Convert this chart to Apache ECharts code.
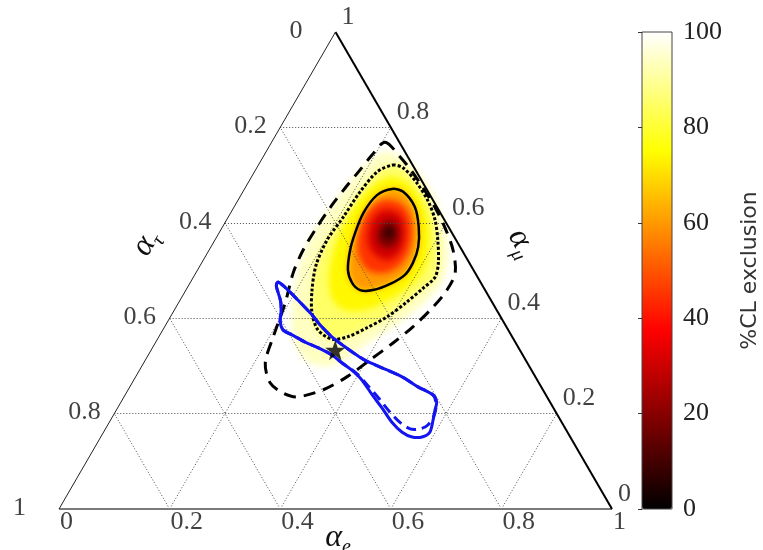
<!DOCTYPE html>
<html>
<head>
<meta charset="utf-8">
<title>Flavour triangle</title>
<script src="https://cdn.jsdelivr.net/npm/echarts@6/dist/echarts.min.js"></script>
<style>
  html, body { margin: 0; padding: 0; background: #ffffff; }
  .layer { position: absolute; left: 0; top: 0; width: 763px; height: 550px; }
  #heat { filter: blur(3px); }
</style>
</head>
<body>
<div id="heat" class="layer"></div>
<div id="main" class="layer"></div>
<script>
// Ternary points are stored as [alpha_e, alpha_mu]; alpha_tau = 1 - alpha_e - alpha_mu.
const tickValues = [0, 0.2, 0.4, 0.6, 0.8, 1];
const tickLabels = ['0', '0.2', '0.4', '0.6', '0.8', '1'];
const gridValues = [0.2, 0.4, 0.6, 0.8];
const vertexE = [1, 0];
const vertexMu = [0, 1];
const vertexTau = [0, 0];

// exclusion contours (closed rings)
const contour95 = [[0.205,0.769],[0.248,0.738],[0.285,0.707],[0.322,0.673],[0.363,0.633],[0.402,0.591],[0.441,0.543],[0.469,0.495],[0.472,0.459],[0.465,0.424],[0.449,0.382],[0.430,0.348],[0.406,0.312],[0.382,0.277],[0.353,0.250],[0.313,0.235],[0.284,0.243],[0.250,0.264],[0.220,0.306],[0.207,0.361],[0.193,0.432],[0.176,0.495],[0.170,0.543],[0.171,0.591],[0.175,0.637],[0.181,0.673],[0.189,0.711],[0.195,0.742]];
const contour90 = [[0.243,0.721],[0.265,0.715],[0.306,0.683],[0.346,0.644],[0.377,0.606],[0.403,0.564],[0.428,0.516],[0.437,0.486],[0.427,0.463],[0.412,0.434],[0.392,0.403],[0.367,0.380],[0.341,0.361],[0.316,0.356],[0.281,0.375],[0.252,0.411],[0.228,0.459],[0.209,0.512],[0.203,0.564],[0.208,0.612],[0.212,0.665],[0.222,0.707]];
const contour68 = [[0.267,0.671],[0.290,0.665],[0.327,0.633],[0.355,0.591],[0.375,0.549],[0.382,0.516],[0.380,0.491],[0.363,0.472],[0.338,0.459],[0.315,0.459],[0.293,0.474],[0.272,0.501],[0.255,0.543],[0.246,0.579],[0.240,0.621],[0.246,0.658]];

// further levels of the exclusion surface
const level98 = [[0.212,0.748],[0.242,0.742],[0.286,0.715],[0.337,0.669],[0.384,0.616],[0.420,0.564],[0.446,0.512],[0.454,0.470],[0.445,0.434],[0.426,0.400],[0.404,0.371],[0.381,0.344],[0.364,0.317],[0.340,0.300],[0.301,0.306],[0.266,0.333],[0.234,0.375],[0.208,0.428],[0.189,0.480],[0.175,0.533],[0.170,0.585],[0.175,0.631],[0.183,0.679],[0.193,0.721]];
const level80 = [[0.254,0.696],[0.295,0.679],[0.341,0.637],[0.377,0.585],[0.401,0.533],[0.408,0.491],[0.396,0.459],[0.373,0.434],[0.345,0.417],[0.309,0.417],[0.276,0.438],[0.248,0.480],[0.228,0.533],[0.218,0.581],[0.216,0.627],[0.226,0.673]];
const level52 = [[0.275,0.648],[0.309,0.633],[0.341,0.595],[0.361,0.547],[0.361,0.512],[0.342,0.495],[0.308,0.501],[0.275,0.533],[0.254,0.574],[0.245,0.616],[0.254,0.642]];
const level38 = [[0.285,0.627],[0.314,0.612],[0.339,0.574],[0.347,0.539],[0.334,0.522],[0.305,0.533],[0.279,0.560],[0.265,0.595],[0.267,0.621]];
const level24 = [[0.296,0.606],[0.316,0.593],[0.331,0.564],[0.325,0.547],[0.304,0.554],[0.288,0.574],[0.285,0.598]];
const level12 = [[0.301,0.591],[0.314,0.583],[0.316,0.568],[0.304,0.570],[0.296,0.583]];
const heatLevels = [98, 90, 80, 68, 52, 38, 24, 12];
const heatRings = [level98, contour90, level80, contour68, level52, level38, level24, level12];
const heatCore = 3;

// second region (blue)
const blueSolid = [[0.158,0.476],[0.176,0.465],[0.213,0.438],[0.254,0.407],[0.279,0.386],[0.313,0.361],[0.347,0.340],[0.373,0.325],[0.397,0.312],[0.436,0.296],[0.482,0.277],[0.521,0.256],[0.557,0.239],[0.571,0.224],[0.576,0.208],[0.583,0.187],[0.590,0.161],[0.581,0.151],[0.563,0.151],[0.540,0.161],[0.511,0.182],[0.478,0.212],[0.447,0.239],[0.413,0.270],[0.384,0.291],[0.359,0.306],[0.332,0.323],[0.300,0.338],[0.270,0.350],[0.239,0.365],[0.218,0.375],[0.204,0.392],[0.195,0.413],[0.184,0.434],[0.170,0.453],[0.159,0.468]];
const blueDashed = [[0.158,0.476],[0.176,0.465],[0.213,0.438],[0.254,0.407],[0.279,0.386],[0.313,0.361],[0.347,0.340],[0.373,0.325],[0.397,0.312],[0.436,0.296],[0.482,0.277],[0.521,0.256],[0.557,0.239],[0.572,0.220],[0.580,0.197],[0.579,0.176],[0.569,0.168],[0.551,0.168],[0.525,0.182],[0.497,0.203],[0.466,0.229],[0.430,0.258],[0.392,0.287],[0.359,0.306],[0.332,0.323],[0.300,0.338],[0.270,0.350],[0.239,0.365],[0.218,0.375],[0.204,0.392],[0.195,0.413],[0.184,0.434],[0.170,0.453],[0.159,0.468]];

const bestFit = [0.333, 0.333];

const colorbarMin = 0;
const colorbarMax = 100;
const colorbarStep = 20;
const hotColors = ['#000000', '#550000', '#aa0000', '#ff0000', '#ff5500', '#ffaa00', '#ffff00', '#ffff80', '#ffffff'];

// ---- helpers -------------------------------------------------------------
const H = Math.sqrt(3) / 2;
const toXY = p => [p[0] + p[1] / 2, p[1] * H];
const bandValue = i => (heatLevels[i] + (i + 1 < heatLevels.length ? heatLevels[i + 1] : heatCore)) / 2;

const plotGrid = { left: 59, top: 32, width: 553, height: 477 };
const plotX = { type: 'value', min: 0, max: 1, show: false };
const plotY = { type: 'value', min: 0, max: H, show: false };
const serif = 'Liberation Serif';

// ---- shaded exclusion surface (soft layer underneath) --------------------
const heatChart = echarts.init(document.getElementById('heat'), null, { renderer: 'canvas' });
heatChart.setOption({
  animation: false,
  grid: plotGrid,
  xAxis: plotX,
  yAxis: plotY,
  visualMap: {
    show: false, type: 'continuous', min: colorbarMin, max: colorbarMax,
    dimension: 2, seriesIndex: 0, inRange: { color: hotColors }
  },
  series: [{
    type: 'custom',
    coordinateSystem: 'cartesian2d',
    silent: true,
    clip: false,
    encode: { x: 0, y: 1 },
    data: heatRings.map((r, i) => { const c = toXY(r[0]); return [c[0], c[1], bandValue(i)]; }),
    renderItem: (params, api) => ({
      type: 'polygon',
      shape: { points: heatRings[params.dataIndex].map(p => api.coord(toXY(p))), smooth: 0.35 },
      style: { fill: api.visual('color') }
    })
  }]
});

// ---- triangle, contours, labels, colour bar ------------------------------
const gridSegments = [];
gridValues.forEach(t => {
  gridSegments.push([[0, t], [1 - t, t]]);       // constant alpha_mu
  gridSegments.push([[t, 0], [t, 1 - t]]);       // constant alpha_e
  gridSegments.push([[1 - t, 0], [0, 1 - t]]);   // constant alpha_tau
});

// closed, smoothed contour outline
function contourSeries(points, color, dash, width, z) {
  return {
    type: 'custom', coordinateSystem: 'cartesian2d', silent: true, clip: false, z: z,
    encode: { x: 0, y: 1 },
    data: [toXY(points[0])],
    renderItem: (params, api) => ({
      type: 'polygon',
      shape: { points: points.map(p => api.coord(toXY(p))), smooth: 0.3 },
      style: { fill: 'none', stroke: color, lineWidth: width, lineDash: dash, lineCap: 'butt', lineJoin: 'round' }
    })
  };
}

function tickSeries(points, dx, dy) {
  return {
    type: 'scatter', data: points.map(toXY), symbolSize: 1, silent: true, clip: false, z: 6,
    itemStyle: { color: 'rgba(0,0,0,0)' },
    label: {
      show: true, position: 'inside', align: 'left', verticalAlign: 'middle', offset: [dx, dy],
      formatter: p => tickLabels[p.dataIndex],
      fontFamily: serif, fontSize: 26, color: '#111'
    }
  };
}

const axisTitleRich = {
  a: { fontFamily: serif, fontStyle: 'italic', fontSize: 32, lineHeight: 40, verticalAlign: 'middle', fill: '#111' },
  s: { fontFamily: serif, fontStyle: 'italic', fontSize: 20, lineHeight: 20, verticalAlign: 'bottom', fill: '#111' }
};

const mainChart = echarts.init(document.getElementById('main'), null, { renderer: 'canvas' });
mainChart.setOption({
  animation: false,
  backgroundColor: 'transparent',
  grid: [plotGrid, { left: 642, top: 32, width: 30, height: 477, show: true, borderColor: '#444', borderWidth: 1, backgroundColor: 'transparent', z: 10 }],
  xAxis: [plotX, { type: 'value', gridIndex: 1, show: false }],
  yAxis: [plotY, {
    type: 'value', gridIndex: 1, min: colorbarMin, max: colorbarMax, interval: colorbarStep,
    position: 'right', z: 10,
    axisLine: { show: false },
    axisTick: { show: true, inside: true, length: 4, lineStyle: { color: '#333' } },
    splitLine: { show: false },
    axisLabel: { fontFamily: serif, fontSize: 26, color: '#222', margin: 11 },
    name: '%CL exclusion', nameLocation: 'middle', nameRotate: 90, nameGap: 67,
    nameTextStyle: { fontFamily: 'DejaVu Sans', fontSize: 22, color: '#333' }
  }],
  visualMap: {
    type: 'continuous', seriesIndex: [], min: colorbarMin, max: colorbarMax,
    left: 642, top: 32, itemWidth: 30, itemHeight: 477, padding: 0,
    calculable: false, hoverLink: false, orient: 'vertical',
    inRange: { color: hotColors }
  },
  graphic: [
    { type: 'text', x: 338, y: 538, silent: true,
      style: { text: '{a|α}{s|e}', align: 'center', verticalAlign: 'middle', rich: axisTitleRich } },
    { type: 'text', x: 146, y: 243, rotation: Math.PI / 3, silent: true,
      style: { text: '{a|α}{s|τ}', align: 'center', verticalAlign: 'middle', rich: axisTitleRich } },
    { type: 'text', x: 522, y: 243, rotation: -Math.PI / 3, silent: true,
      style: { text: '{a|α}{s|μ}', align: 'center', verticalAlign: 'middle', rich: axisTitleRich } }
  ],
  series: [
    { type: 'lines', coordinateSystem: 'cartesian2d', polyline: false, silent: true, clip: false, z: 1,
      data: gridSegments.map(s => ({ coords: s.map(toXY) })),
      lineStyle: { color: '#4a4a4a', width: 1, type: [1, 2], opacity: 1 } },
    { type: 'lines', coordinateSystem: 'cartesian2d', polyline: false, silent: true, clip: false, z: 2,
      data: [
        { coords: [vertexTau, vertexE].map(toXY), lineStyle: { color: '#7a7a7a', width: 2 } },
        { coords: [vertexE, vertexMu].map(toXY), lineStyle: { color: '#000', width: 2 } },
        { coords: [vertexMu, vertexTau].map(toXY), lineStyle: { color: '#222', width: 1 } }
      ],
      lineStyle: { opacity: 1 } },
    contourSeries(contour95, '#000', [12, 8], 3, 3),
    contourSeries(contour90, '#000', [3, 2], 3, 3),
    contourSeries(contour68, '#000', null, 2.5, 3),
    contourSeries(blueDashed, '#1414f0', [10, 6], 3, 4),
    contourSeries(blueSolid, '#1414f0', null, 3, 4),
    { type: 'scatter', data: [toXY(bestFit)], silent: true, clip: false, z: 5,
      symbol: 'path://M12,0 L14.9,8.1 L23.4,8.2 L16.6,13.3 L19.1,21.5 L12,16.6 L4.9,21.5 L7.4,13.3 L0.6,8.2 L9.1,8.1 Z',
      symbolSize: 20, itemStyle: { color: '#000' } },
    tickSeries(tickValues.map(t => [t, 0]), 1, 13),          // alpha_e along the base
    tickSeries(tickValues.map(t => [0, 1 - t]), -46, -1),    // alpha_tau along the left side
    tickSeries(tickValues.map(t => [1 - t, t]), 6, -15)      // alpha_mu along the right side
  ]
});
</script>
</body>
</html>
